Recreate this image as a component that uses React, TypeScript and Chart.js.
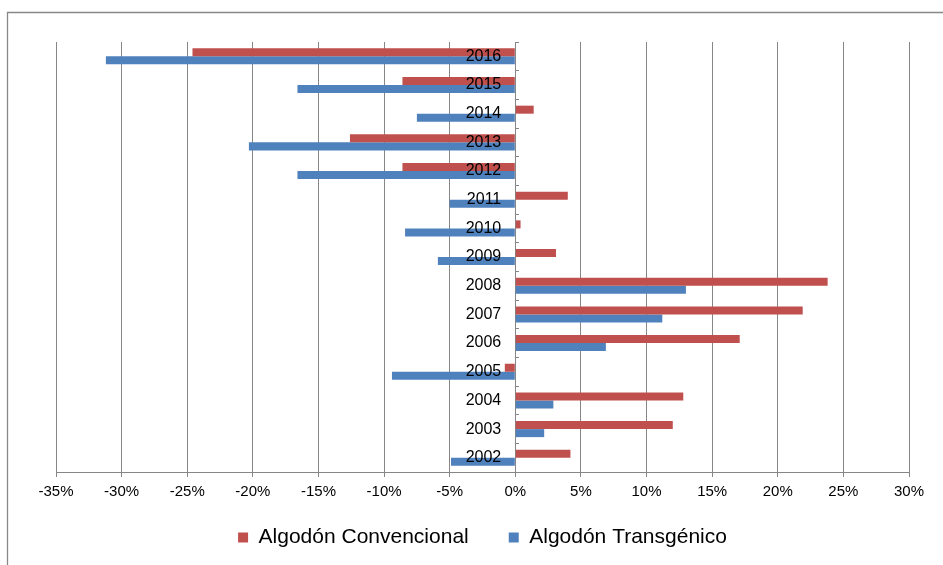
import React, { useEffect, useRef } from "react";
import { Chart, registerables } from "chart.js";

Chart.register(...registerables);

const years = ["2016", "2015", "2014", "2013", "2012", "2011", "2010", "2009", "2008", "2007", "2006", "2005", "2004", "2003", "2002"];
const convencional = [-24.6, -8.6, 1.4, -12.6, -8.6, 4.0, 0.4, 3.1, 23.8, 21.9, 17.1, -0.8, 12.8, 12.0, 4.2];
const transgenico = [-31.2, -16.6, -7.5, -20.3, -16.6, -5.0, -8.4, -5.9, 13.0, 11.2, 6.9, -9.4, 2.9, 2.2, -4.9];
const seriesNames = ["Algodón Convencional", "Algodón Transgénico"];
const xMin = -35;
const xMax = 30;
const xStep = 5;

const FONT = "'Liberation Sans', Arial, sans-serif";
const GRID = "#868686";
// where the category labels sit (just left of the 0% axis), in x-axis units
const LABEL_ANCHOR = -1.07;

const framePlugin = {
  id: "outerFrame",
  beforeDraw(chart: any) {
    const ctx = chart.ctx;
    ctx.save();
    ctx.strokeStyle = "#888888";
    ctx.lineWidth = 1.3;
    ctx.beginPath();
    ctx.moveTo(7.5, chart.height + 5);
    ctx.lineTo(7.5, 12.5);
    ctx.lineTo(chart.width + 5, 12.5);
    ctx.stroke();
    ctx.restore();
  },
};

export default function App() {
  const ref = useRef<HTMLCanvasElement>(null);

  useEffect(() => {
    if (!ref.current) return;
    const chart = new Chart(ref.current, {
      type: "bar",
      data: {
        labels: years,
        datasets: [
          {
            label: seriesNames[0],
            data: convencional,
            backgroundColor: "#C0504D",
            borderWidth: 0,
            barPercentage: 1,
            categoryPercentage: 0.56,
            yAxisID: "y",
          },
          {
            label: seriesNames[1],
            data: transgenico,
            backgroundColor: "#4F81BD",
            borderWidth: 0,
            barPercentage: 1,
            categoryPercentage: 0.56,
            yAxisID: "y",
          },
        ],
      },
      options: {
        indexAxis: "y",
        responsive: false,
        animation: false,
        devicePixelRatio: 1,
        layout: { padding: { left: 56, right: 34, top: 42, bottom: 7 } },
        plugins: {
          title: {
            display: true,
            position: "bottom",
            text: "",
            weight: 500,
            font: { family: FONT, size: 12.4 },
            padding: 0,
          } as any,
          legend: {
            position: "bottom",
            labels: {
              font: { family: FONT, size: 21 },
              color: "#000000",
              boxWidth: 10,
              boxHeight: 10,
              padding: 40,
            },
          },
          tooltip: { enabled: false },
        },
        scales: {
          x: {
            type: "linear",
            min: xMin,
            max: xMax,
            position: { y: years.length - 0.5 } as any,
            ticks: {
              stepSize: xStep,
              font: { family: FONT, size: 15 },
              color: "#000000",
              padding: 7,
              maxRotation: 0,
              callback: (v: any) => `${v}%`,
            },
            grid: {
              color: GRID,
              lineWidth: 1,
              drawTicks: true,
              tickLength: 4,
            },
            border: { display: true, color: GRID, width: 1 },
          },
          y: {
            type: "category",
            position: { x: 0 } as any,
            ticks: { display: false },
            grid: {
              drawOnChartArea: false,
              drawTicks: true,
              tickLength: -4,
              color: GRID,
              offset: true,
            },
            border: { display: true, color: GRID, width: 1 },
          },
          yLabels: {
            type: "category",
            axis: "y",
            position: { x: LABEL_ANCHOR } as any,
            ticks: {
              font: { family: FONT, size: 16 },
              color: "#000000",
              padding: 0,
              z: 1,
            },
            grid: { display: false, drawTicks: false },
            border: { display: false },
          } as any,
        },
      },
      plugins: [framePlugin],
    });
    return () => chart.destroy();
  }, []);

  return (
    <div style={{ position: "absolute", left: 0, top: 0, width: 943, height: 565, background: "#ffffff" }}>
      <canvas ref={ref} width={943} height={565} style={{ display: "block" }} />
    </div>
  );
}
